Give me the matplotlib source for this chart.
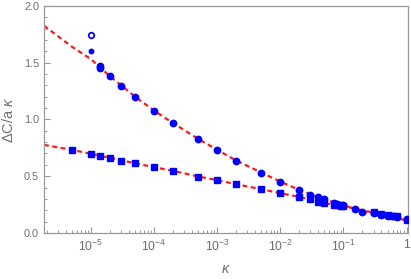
import matplotlib.pyplot as plt

# upper branch (circles)
kappa_c = [1.4e-5, 1.4e-5, 2e-5, 3e-5, 5e-5, 1e-4, 2e-4, 5e-4, 1e-3, 2e-3, 5e-3,
           1e-2, 2e-2, 3e-2, 4e-2, 5e-2, 7e-2, 8e-2, 9e-2, 0.1, 0.15, 0.2,
           0.3, 0.4, 0.5, 0.6, 0.7, 1.0]
dc_c = [1.47, 1.455, 1.38, 1.29, 1.20, 1.078, 0.967, 0.829, 0.732, 0.638, 0.532,
        0.452, 0.379, 0.335, 0.315, 0.297, 0.262, 0.256, 0.25, 0.245, 0.209, 0.188,
        0.174, 0.159, 0.153, 0.145, 0.14, 0.121]
# extra points at kappa = 1e-5
kappa_small = [1e-5]
dc_small = [1.60]
kappa_open = [1e-5]
dc_open = [1.745]

# lower branch (squares)
kappa_s = [5e-6, 1e-5, 1.4e-5, 2e-5, 3e-5, 5e-5, 1e-4, 2e-4, 5e-4, 1e-3, 2e-3, 5e-3,
           1e-2, 2e-2, 3e-2, 4e-2, 5e-2, 7e-2, 8e-2, 9e-2, 0.1,
           0.3, 0.4, 0.5, 0.6, 0.7, 1.0]
dc_s = [0.732, 0.697, 0.676, 0.661, 0.638, 0.614, 0.579, 0.547, 0.497, 0.465, 0.429, 0.385,
        0.350, 0.320, 0.297, 0.276, 0.262, 0.25, 0.245, 0.24, 0.237,
        0.183, 0.165, 0.155, 0.15, 0.145, 0.115]

# dashed fit curves
fit_k = [1.8e-6, 5e-6, 1e-5, 2e-5, 5e-5, 1e-4, 2e-4, 5e-4, 1e-3, 2e-3, 5e-3,
         1e-2, 2e-2, 5e-2, 0.1, 0.2, 0.5, 1.06]
fit_upper = [1.825, 1.64, 1.53, 1.38, 1.20, 1.078, 0.967, 0.829, 0.732, 0.638, 0.532,
             0.452, 0.379, 0.297, 0.245, 0.19, 0.145, 0.10]
fit_lower = [0.776, 0.732, 0.697, 0.661, 0.614, 0.579, 0.547, 0.497, 0.465, 0.429, 0.385,
             0.350, 0.318, 0.262, 0.236, 0.20, 0.155, 0.105]

plt.rcParams['font.family'] = ['Liberation Sans', 'DejaVu Sans']
plt.rcParams['mathtext.fontset'] = 'custom'
plt.rcParams['mathtext.rm'] = 'Liberation Sans'
plt.rcParams['mathtext.it'] = 'Liberation Sans:italic'
gray = '#6e6e6e'

fig = plt.figure(figsize=(4.11, 2.79), dpi=100)
ax = fig.add_axes([0.107, 0.165, 0.886, 0.814])

ax.plot(fit_k, fit_upper, color='#ff1a1a', lw=1.6, ls=(0, (2.2, 1.6)), zorder=2)
ax.plot(fit_k, fit_lower, color='#ff1a1a', lw=1.6, ls=(0, (2.2, 1.6)), zorder=2)

ax.plot(kappa_c, dc_c, 'o', color='#0000ff', ms=4.6, mec='#0000ff', zorder=3)
ax.plot(kappa_s, dc_s, 's', color='#0000ff', ms=3.8, mec='#0000ff', zorder=3)
ax.plot(kappa_small, dc_small, 'o', color='#0000ff', ms=3.2, zorder=3)
ax.plot(kappa_open, dc_open, 'o', mfc='white', mec='#0000ff', mew=1.3, ms=4.0, zorder=3)

ax.set_xscale('log')
ax.set_xlim(1.8e-6, 1.06)
ax.set_ylim(0, 2.0)
ax.set_xticks([1e-5, 1e-4, 1e-3, 1e-2, 1e-1, 1])
ax.set_xticklabels([r'$\mathregular{10^{-5}}$', r'$\mathregular{10^{-4}}$',
                    r'$\mathregular{10^{-3}}$', r'$\mathregular{10^{-2}}$',
                    r'$\mathregular{10^{-1}}$', '1'])
ax.set_yticks([0.0, 0.5, 1.0, 1.5, 2.0])
ax.set_yticklabels(['0.0', '0.5', '1.0', '1.5', '2.0'])
ax.set_yticks([i * 0.1 for i in range(21)], minor=True)

for s in ax.spines.values():
    s.set_color('#999999')
    s.set_linewidth(0.9)
ax.tick_params(which='both', direction='in', colors='#999999', labelcolor=gray,
               labelsize=7.8, top=False, right=False)
ax.tick_params(axis='x', labelsize=8.8, pad=4)
ax.tick_params(which='major', length=4, width=0.8)
ax.tick_params(which='minor', length=2.2, width=0.7)

ax.set_xlabel(r'$\kappa$', color=gray, fontsize=10.5, labelpad=6)
ax.set_ylabel(r'$\Delta$C/a $\kappa$', color=gray, fontsize=10.5, labelpad=6)

fig.savefig('out.png', dpi=100)
